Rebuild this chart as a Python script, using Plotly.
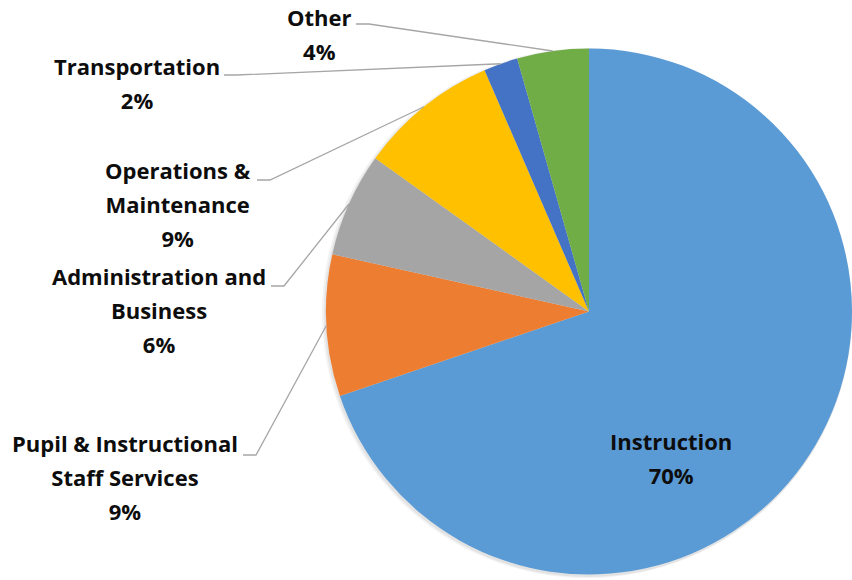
import math
import plotly.graph_objects as go

# ---- data ----
categories = ["Instruction", "Pupil & Instructional<br>Staff Services", "Administration and<br>Business",
              "Operations &<br>Maintenance", "Transportation", "Other"]
values = [69.8, 8.7, 6.4, 8.6, 2.1, 4.4]
colors = ["#5B9BD5", "#ED7D31", "#A5A5A5", "#FFC000", "#4472C4", "#70AD47"]

# ---- layout geometry (pixels) ----
W, H = 852, 580
cx, cy, R = 589, 311.5, 263

def px2paper(x, y):
    return x / W, 1 - y / H

def circle_domain(ccx, ccy, rr):
    return dict(x=[max(0.0, (ccx - rr) / W), min(1.0, (ccx + rr) / W)],
                y=[max(0.0, 1 - (ccy + rr) / H), min(1.0, 1 - (ccy - rr) / H)])

fig = go.Figure()

# soft shadow layers under the pie
for (dx, dy, dr, a) in [(-2, 1.5, 2, 0.05), (-1, 1.5, 1, 0.06)]:
    fig.add_trace(go.Pie(
        values=[sum(values)], labels=["shadow"],
        marker=dict(colors=[f"rgba(0,0,0,{a})"], line=dict(width=0)),
        textinfo="none", hoverinfo="skip", showlegend=False, sort=False,
        domain=circle_domain(cx + dx, cy + dy, R + dr)))

fig.add_trace(go.Pie(
    values=values, labels=categories, marker=dict(colors=colors, line=dict(width=0)),
    textinfo="none", sort=False, direction="clockwise", rotation=0, showlegend=False,
    domain=circle_domain(cx, cy, R)))

# label placement (pixel centres of label blocks) and leader-line starts
label_pos = {
    0: (671, 458),
    1: (125, 477),
    2: (159, 310),
    3: (178, 204),
    4: (137, 83),
    5: (319, 34),
}
leader_start = {
    1: (243, 455),
    2: (271, 286),
    3: (257, 180),
    4: (224, 75),
    5: (356, 24),
}

annotations = []
shapes = []
total = sum(values)
cum = 0
for i, (cat, v) in enumerate(zip(categories, values)):
    mid = (cum + v / 2) / total
    cum += v
    theta = 2 * math.pi * mid
    ex = cx + R * math.sin(theta)
    ey = cy - R * math.cos(theta)
    pct = f"{round(v / total * 100)}%"
    lx, ly = label_pos[i]
    ax_, ay_ = px2paper(lx, ly)
    annotations.append(dict(
        x=ax_, y=ay_, xref="paper", yref="paper", showarrow=False,
        xanchor="center", yanchor="middle", align="center",
        text=f"<span style='font-size:22px'><b>{cat}<br>{pct}</b></span>",
        font=dict(family="Open Sans", size=26, color="#0d0d0d")))
    if i in leader_start:
        sx, sy = leader_start[i]
        x0, y0 = px2paper(sx, sy)
        x1, _ = px2paper(sx + 13, sy)
        x2, y2 = px2paper(ex, ey)
        shapes.append(dict(type="path", xref="paper", yref="paper",
                           path=f"M {x0},{y0} L {x1},{y0} L {x2},{y2}",
                           line=dict(color="#A6A6A6", width=1.3)))

fig.update_layout(
    width=W, height=H, margin=dict(l=0, r=0, t=0, b=0),
    paper_bgcolor="white", plot_bgcolor="white",
    annotations=annotations, shapes=shapes, showlegend=False)

fig.write_html("out.html")
